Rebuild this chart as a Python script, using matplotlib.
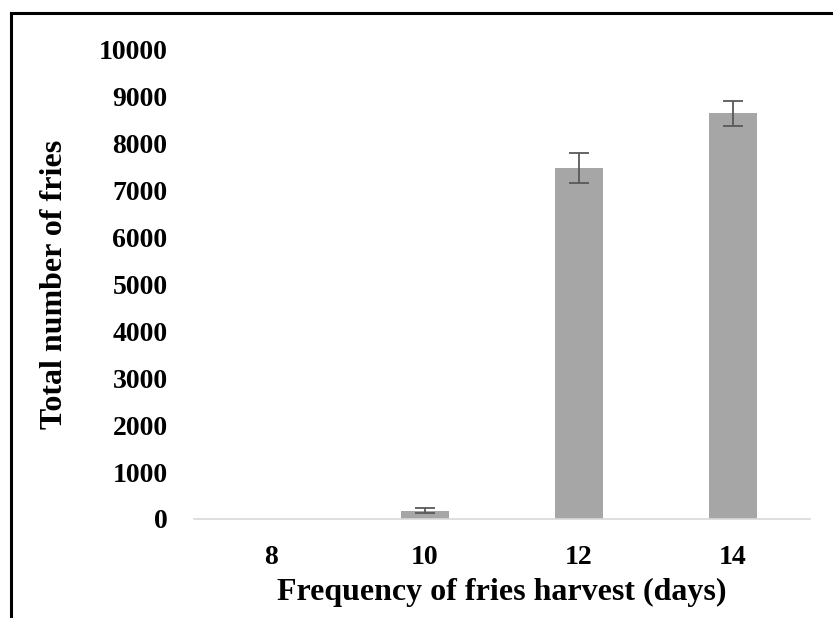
import numpy as np
import matplotlib
matplotlib.use("Agg")
import matplotlib.pyplot as plt
from matplotlib.lines import Line2D

# data
days = ["8", "10", "12", "14"]
fries = [0, 180, 7480, 8650]
fries_err = [0, 45, 320, 270]
y_ticks = [0, 1000, 2000, 3000, 4000, 5000, 6000, 7000, 8000, 9000, 10000]

plt.rcParams['font.family'] = ['Liberation Serif', 'DejaVu Serif']
plt.rcParams['font.weight'] = 'bold'

fig = plt.figure(figsize=(8.33, 6.18), dpi=100)
ax = fig.add_axes([194/833, 1 - 519/618, 616/833, 469/618])

x = np.arange(len(days))
ax.bar(x, fries, width=0.31, color="#a6a6a6", zorder=2)
ax.errorbar(x[1:], fries[1:], yerr=fries_err[1:], fmt="none", ecolor="#595959",
            elinewidth=1.3, capsize=7.5, capthick=1.3, zorder=3)

ax.set_xlim(-0.5, len(days) - 0.5)
ax.set_ylim(0, 10000)
ax.set_xticks(x)
ax.set_xticklabels(days)
ax.set_yticks(y_ticks)
ax.set_yticklabels([str(v) for v in y_ticks])
ax.tick_params(axis="both", length=0, labelsize=20)
ax.tick_params(axis="y", pad=19)
ax.tick_params(axis="x", pad=19)

for side in ["top", "right", "left"]:
    ax.spines[side].set_visible(False)
ax.spines["bottom"].set_color("#d9d9d9")
ax.spines["bottom"].set_linewidth(1.2)

ax.set_ylabel("Total number of fries", fontsize=23, fontweight="bold")
ax.yaxis.set_label_coords((69 - 194) / 616, 0.5)
ax.set_xlabel("Frequency of fries harvest (days)", fontsize=23, fontweight="bold")
ax.xaxis.set_label_coords(0.5, -(578 - 519) / 469)

# outer frame (only left and top edges are visible in the crop)
fig.add_artist(Line2D([11/833, 11/833], [0, 1 - 13/618], color="black", lw=2.2,
                      transform=fig.transFigure))
fig.add_artist(Line2D([11/833, 1], [1 - 13/618, 1 - 13/618], color="black", lw=2.2,
                      transform=fig.transFigure))

fig.savefig("out.png", dpi=100)
